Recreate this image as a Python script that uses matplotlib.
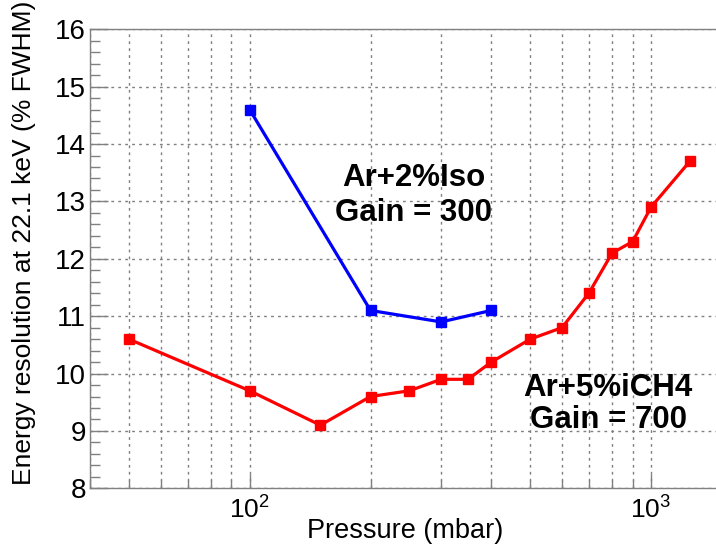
import matplotlib
matplotlib.use("Agg")
import matplotlib.pyplot as plt
from matplotlib.ticker import LogLocator, NullFormatter, MultipleLocator

plt.rcParams['font.family'] = ['Liberation Sans', 'DejaVu Sans']
plt.rcParams['mathtext.fontset'] = 'custom'
plt.rcParams['mathtext.rm'] = 'Liberation Sans'
plt.rcParams['mathtext.it'] = 'Liberation Sans'

# Ar + 5% iCH4 mixture (red), gain 700
p_ar5 = [50, 100, 150, 200, 250, 300, 350, 400, 500, 600, 700, 800, 900, 1000, 1250]
res_ar5 = [10.6, 9.7, 9.1, 9.6, 9.7, 9.9, 9.9, 10.2, 10.6, 10.8, 11.4, 12.1, 12.3, 12.9, 13.7]

# Ar + 2% isobutane (blue), gain 300
p_ar2 = [100, 200, 300, 400]
res_ar2 = [14.6, 11.1, 10.9, 11.1]

fig = plt.figure(figsize=(7.16, 5.47), dpi=100)
ax = fig.add_axes([0.1257, 0.1073, 0.8743, 0.8391])

ax.set_xscale('log')
ax.set_xlim(40, 1452)
ax.set_ylim(8, 16)

grey = '#808080'
for s in ['left', 'bottom', 'top']:
    ax.spines[s].set_color(grey)
    ax.spines[s].set_linewidth(1.0)
ax.spines['right'].set_visible(False)

ax.xaxis.set_major_locator(LogLocator(base=10, numticks=10))
ax.xaxis.set_minor_locator(LogLocator(base=10, subs=range(2, 10), numticks=20))
ax.xaxis.set_minor_formatter(NullFormatter())
ax.yaxis.set_major_locator(MultipleLocator(1))
ax.yaxis.set_minor_locator(MultipleLocator(0.2))

ax.tick_params(axis='y', which='major', direction='in', length=13, width=1, color=grey,
               labelsize=20, pad=3, right=False)
ax.tick_params(axis='y', which='minor', direction='in', length=7, width=1, color=grey, right=False)
ax.tick_params(axis='x', which='major', direction='in', length=10, width=1, color=grey,
               labelsize=19, pad=6, top=False)
ax.tick_params(axis='x', which='minor', direction='in', length=6, width=1, color=grey, top=False)

ax.grid(True, which='major', axis='y', linestyle=(0, (2, 3)), color=grey, linewidth=1.0)
ax.grid(True, which='both', axis='x', linestyle=(0, (2, 3)), color=grey, linewidth=1.0)
ax.set_axisbelow(True)

ax.plot(p_ar2, res_ar2, color='#0000ff', linewidth=2.3, marker='s', markersize=6.5)
ax.plot(p_ar5, res_ar5, color='#ff0000', linewidth=2.3, marker='s', markersize=6.5)

# Mixture annotations
label_kw = dict(ha='center', va='baseline', fontsize=22.5, fontweight='bold')
ax.text(256, 13.27, 'Ar+2%Iso', **label_kw)
ax.text(256, 12.66, 'Gain = 300', **label_kw)
ax.text(782, 9.61, 'Ar+5%iCH4', **label_kw)
ax.text(782, 9.05, 'Gain = 700', **label_kw)

# Axis titles
fig.text(0.5656, 0.0165, 'Pressure (mbar)', ha='center', va='baseline', fontsize=19.5)
fig.text(0.0335, 0.5558, 'Energy resolution at 22.1 keV (% FWHM)', rotation=90,
         ha='center', va='center', fontsize=19)

fig.savefig('out.png', dpi=100)
